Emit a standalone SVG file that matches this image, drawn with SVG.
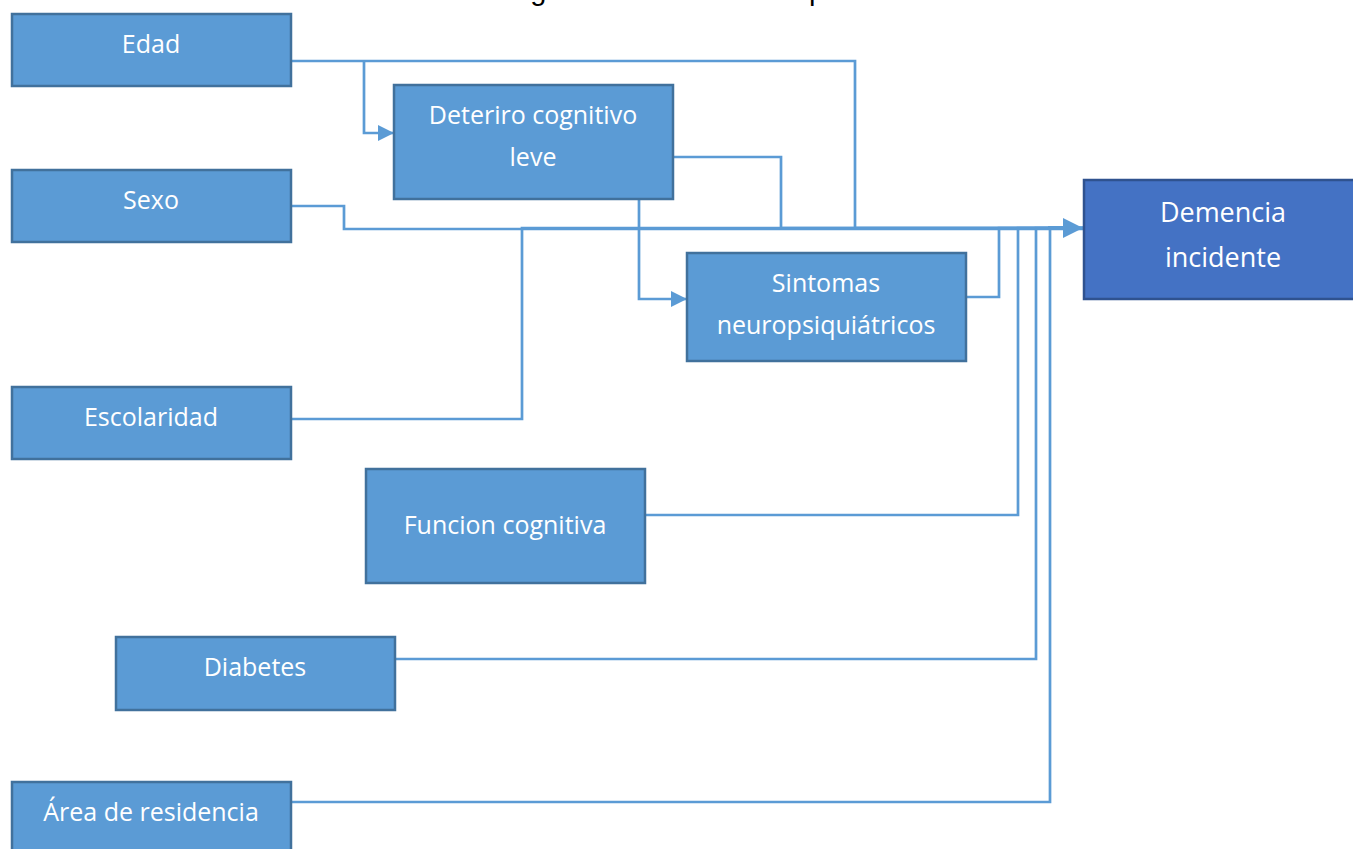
<svg xmlns="http://www.w3.org/2000/svg" width="1353" height="849" viewBox="0 0 1353 849">
<style>
.box{fill:#5B9BD5;stroke:#41719C;stroke-width:2.5}
.dark{fill:#4472C4;stroke:#2F528F;stroke-width:2.5}
.lbl{font-family:"Open Sans","Noto Sans",sans-serif;font-size:25px;fill:#FFFFFF;text-anchor:middle}
.lbl2{font-family:"Open Sans","Noto Sans",sans-serif;font-size:27px;fill:#FFFFFF;text-anchor:middle}
.con{fill:none;stroke:#5B9BD5;stroke-width:2.7}
.title{font-family:"Liberation Sans",Arial,sans-serif;font-size:29px;fill:#000000}
</style>
<defs>
<marker id="arr" markerUnits="userSpaceOnUse" markerWidth="17" markerHeight="17" refX="15" refY="8" orient="auto">
<path d="M0,0 L16,8 L0,16 Z" fill="#5B9BD5"/>
</marker>
<marker id="arrBig" markerUnits="userSpaceOnUse" markerWidth="22" markerHeight="22" refX="20" refY="10" orient="auto">
<path d="M0,0 L20,10 L0,20 Z" fill="#5B9BD5"/>
</marker>
</defs>
<text class="title" x="506" y="-0.5">Figura 1. Modelo conceptual</text>
<g id="connectors">
<path class="con" d="M291,61 H855 V228 H1083" marker-end="url(#arrBig)"/>
<path class="con" d="M364,61 V133 H393" marker-end="url(#arr)"/>
<path class="con" d="M673,157 H781 V228 H1083"/>
<path class="con" d="M639,199 V299 H686" marker-end="url(#arr)"/>
<path class="con" d="M291,206 H344 V229 H1083"/>
<path class="con" d="M291,419 H522 V228 H1083"/>
<path class="con" d="M966,297 H999 V228 H1083"/>
<path class="con" d="M645,515 H1018 V228 H1083"/>
<path class="con" d="M395,659 H1036 V228 H1083"/>
<path class="con" d="M291,802 H1050 V228 H1083"/>
<path class="con" d="M1048,228 H1070" style="stroke-width:4"/>
</g>
<g id="edad"><rect class="box" x="12" y="14" width="279" height="72"/><text class="lbl" x="151" y="53">Edad</text></g>
<g id="sexo"><rect class="box" x="12" y="170" width="279" height="72"/><text class="lbl" x="151" y="209">Sexo</text></g>
<g id="escolaridad"><rect class="box" x="12" y="387" width="279" height="72"/><text class="lbl" x="151" y="426">Escolaridad</text></g>
<g id="area"><rect class="box" x="12" y="782" width="279" height="72"/><text class="lbl" x="151" y="821">Área de residencia</text></g>
<g id="diabetes"><rect class="box" x="116" y="637" width="279" height="73"/><text class="lbl" x="255" y="676">Diabetes</text></g>
<g id="funcion"><rect class="box" x="366" y="469" width="279" height="114"/><text class="lbl" x="505" y="534">Funcion cognitiva</text></g>
<g id="deterioro"><rect class="box" x="394" y="85" width="279" height="114"/><text class="lbl" x="533" y="124">Deteriro cognitivo</text><text class="lbl" x="533" y="166">leve</text></g>
<g id="sintomas"><rect class="box" x="687" y="253" width="279" height="108"/><text class="lbl" x="826" y="292">Sintomas</text><text class="lbl" x="826" y="334">neuropsiquiátricos</text></g>
<g id="demencia"><rect class="dark" x="1084" y="180" width="272" height="119"/><text class="lbl2" x="1223" y="222">Demencia</text><text class="lbl2" x="1223" y="267">incidente</text></g>
</svg>
